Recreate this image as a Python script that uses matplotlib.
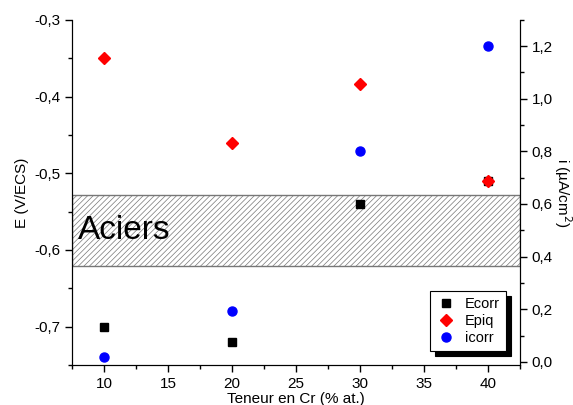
import matplotlib
matplotlib.use('Agg')
import matplotlib.pyplot as plt
from matplotlib.ticker import MultipleLocator, FuncFormatter

plt.rcParams['font.family'] = ['Liberation Sans', 'DejaVu Sans']
plt.rcParams['hatch.color'] = '#808080'
plt.rcParams['hatch.linewidth'] = 0.5

# données
teneur = [10, 20, 30, 40]
ecorr = [-0.70, -0.72, -0.54, -0.51]
epiq = [-0.35, -0.46, -0.384, -0.51]
icorr = [0.02, 0.195, 0.80, 1.20]
aciers_bas, aciers_haut = -0.621, -0.528

virgule = FuncFormatter(lambda v, p: f'{v:.1f}'.replace('.', ','))

fig = plt.figure(figsize=(5.73, 4.05), dpi=100)
ax = fig.add_axes([0.1257, 0.0988, 0.7818, 0.8522])
ax2 = ax.twinx()

# bande hachurée "Aciers"
ax.axhspan(aciers_bas, aciers_haut, facecolor='white', edgecolor='#777777',
           hatch='//////', linewidth=1.0, zorder=1)
ax.text(8.0, (aciers_bas + aciers_haut) / 2, 'Aciers', fontsize=24,
        va='center', ha='left', zorder=2)

l1, = ax.plot(teneur, ecorr, 's', color='black', markersize=5.5, label='Ecorr', zorder=3)
l2, = ax.plot(teneur, epiq, 'D', color='red', markersize=6.5, label='Epiq', zorder=4)
l3, = ax2.plot(teneur, icorr, 'o', color='blue', markersize=6.5, label='icorr', zorder=3)

ax.set_xlim(7.5, 42.5)
ax.set_ylim(-0.75, -0.3)
ax2.set_ylim(-0.012, 1.3)

ax.xaxis.set_major_locator(MultipleLocator(5))
ax.xaxis.set_minor_locator(MultipleLocator(2.5))
ax.yaxis.set_major_locator(MultipleLocator(0.1))
ax.yaxis.set_minor_locator(MultipleLocator(0.05))
ax.yaxis.set_major_formatter(virgule)
ax2.yaxis.set_major_locator(MultipleLocator(0.2))
ax2.yaxis.set_minor_locator(MultipleLocator(0.1))
ax2.yaxis.set_major_formatter(virgule)

for a in (ax, ax2):
    a.spines['top'].set_visible(False)
    a.tick_params(which='major', direction='out', length=5, width=1, labelsize=11)
    a.tick_params(which='minor', direction='out', length=3, width=1)

ax.set_xlabel('Teneur en Cr (% at.)', fontsize=11, labelpad=1)
ax.set_ylabel('E (V/ECS)', fontsize=11, labelpad=4)
ax2.set_ylabel('i (µA/cm$^2$)', fontsize=11, rotation=270, labelpad=15)

leg = ax2.legend([l1, l2, l3], ['Ecorr', 'Epiq', 'icorr'], loc='lower right',
                 bbox_to_anchor=(0.985, 0.02), fontsize=10.5, fancybox=False,
                 framealpha=1, edgecolor='black', handletextpad=0.6,
                 borderpad=0.4, labelspacing=0.2, handlelength=1.4,
                 shadow={'color': 'black', 'alpha': 1, 'ox': 3.5, 'oy': -3.5})
leg.get_frame().set_linewidth(0.8)

fig.savefig('out.png', dpi=100)
